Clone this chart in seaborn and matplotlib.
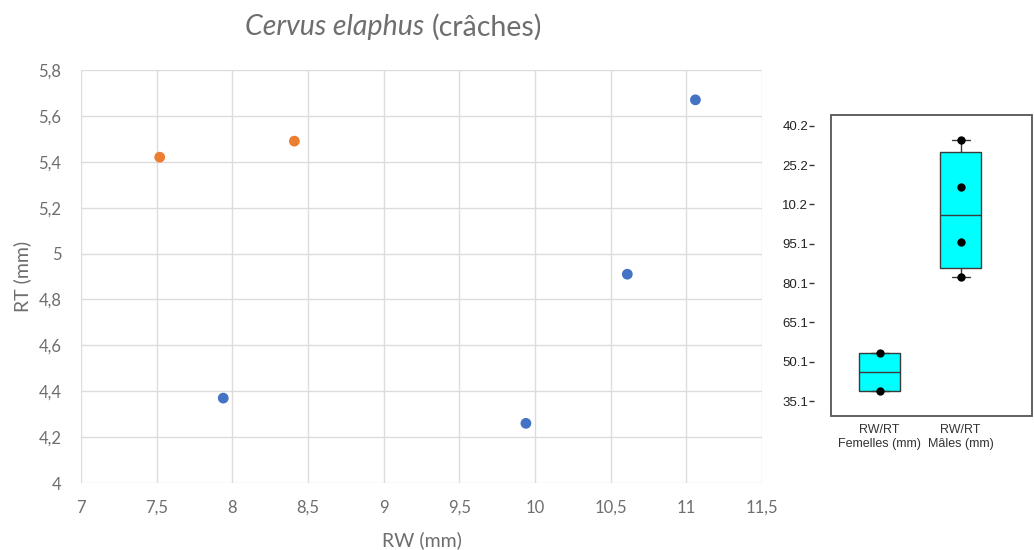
import matplotlib
matplotlib.use("Agg")
import matplotlib.pyplot as plt
from matplotlib.patches import Rectangle
import numpy as np
import pandas as pd
import seaborn as sns

rw_femelles = [7.52, 8.41]
rt_femelles = [5.42, 5.49]
rw_males = [7.94, 9.94, 10.61, 11.06]
rt_males = [4.37, 4.26, 4.91, 5.67]

# Rapports RW/RT pour la boîte à moustaches
ratio_femelles = [1.391, 1.534]
ratio_males = [1.824, 1.958, 2.168, 2.347]

xticks = [7, 7.5, 8, 8.5, 9, 9.5, 10, 10.5, 11, 11.5]
xtick_labels = ["7", "7,5", "8", "8,5", "9", "9,5", "10", "10,5", "11", "11,5"]
yticks = [4, 4.2, 4.4, 4.6, 4.8, 5, 5.2, 5.4, 5.6, 5.8]
ytick_labels = ["4", "4,2", "4,4", "4,6", "4,8", "5", "5,2", "5,4", "5,6", "5,8"]

box_ticks = [1.351, 1.501, 1.651, 1.801, 1.951, 2.102, 2.252, 2.402]
box_tick_labels = ["35.1", "50.1", "65.1", "80.1", "95.1", "10.2", "25.2", "40.2"]
box_cats = ["RW/RT\nFemelles (mm)", "RW/RT\nMâles (mm)"]

GRAY = "#595959"
TICKGRAY = "#6e6e6e"

sns.set_style("white")
plt.rcParams["font.family"] = ["Lato", "DejaVu Sans"]

fig = plt.figure(figsize=(10.34, 5.5), dpi=100)

# --- nuage de points
ax = fig.add_axes([81 / 1034, 1 - 483 / 550, 681 / 1034, 413 / 550])
df = pd.DataFrame({
    "RW": rw_femelles + rw_males,
    "RT": rt_femelles + rt_males,
    "sexe": ["F"] * len(rw_femelles) + ["M"] * len(rw_males),
})
sns.scatterplot(data=df, x="RW", y="RT", hue="sexe",
                palette={"F": "#ED7D31", "M": "#4472C4"},
                s=60, edgecolor="none", legend=False, ax=ax, zorder=3)
ax.set_xlim(7, 11.5)
ax.set_ylim(4, 5.8)
ax.set_xticks(xticks, xtick_labels)
ax.set_yticks(yticks, ytick_labels)
ax.grid(True, color="#dcdcdc", lw=1.0)
for s in ax.spines.values():
    s.set_visible(False)
ax.tick_params(length=0, labelsize=12, labelcolor=TICKGRAY)
ax.tick_params(axis="x", pad=12)
ax.tick_params(axis="y", pad=14)
ax.set_xlabel("RW (mm)", fontsize=14, color=TICKGRAY, labelpad=11)
ax.set_ylabel("RT (mm)", fontsize=14, color=TICKGRAY, labelpad=5)

fig.text(0.4105, 0.951, "Cervus elaphus", style="italic", fontsize=20.5,
         color=TICKGRAY, ha="right", va="center")
fig.text(0.4175, 0.951, "(crâches)", fontsize=20.5, color=TICKGRAY,
         ha="left", va="center")

# --- boîte à moustaches
axb = fig.add_axes([831 / 1034, 1 - 416 / 550, 201 / 1034, 301 / 550])
stats = []
for lab, vals in zip(box_cats, [ratio_femelles, ratio_males]):
    v = np.array(vals)
    q1, med, q3 = np.quantile(v, [0.25, 0.5, 0.75], method="weibull")
    stats.append(dict(label=lab, med=med, q1=q1, q3=q3,
                      whislo=v.min(), whishi=v.max(), fliers=[]))
edge = "#3a3a3a"
axb.bxp(stats, positions=[0, 1], widths=0.5, capwidths=0.22,
        patch_artist=True, showfliers=False,
        boxprops=dict(facecolor="#00FFFF", edgecolor=edge, lw=1),
        medianprops=dict(color=edge, lw=1),
        whiskerprops=dict(color=edge, lw=1),
        capprops=dict(color=edge, lw=1))
pts = pd.DataFrame({
    "cat": [box_cats[0]] * len(ratio_femelles) + [box_cats[1]] * len(ratio_males),
    "val": ratio_femelles + ratio_males,
})
sns.stripplot(data=pts, x="cat", y="val", jitter=False, color="black",
              size=6, ax=axb, zorder=4)
axb.set_xlim(-0.6, 1.88)
axb.set_ylim(1.294, 2.443)
axb.set_xticks([0, 1], box_cats)
axb.set_yticks(box_ticks, box_tick_labels)
axb.set_xlabel("")
axb.set_ylabel("")
for s in axb.spines.values():
    s.set_visible(False)
axb.spines["left"].set_position(("outward", 12))
axb.add_patch(Rectangle((0, 0), 1, 1, transform=axb.transAxes, fill=False,
                        ec="#555555", lw=1.3, clip_on=False))
for t in axb.get_xticklabels() + axb.get_yticklabels():
    t.set_family(["Liberation Sans", "DejaVu Sans"])
axb.tick_params(axis="y", left=True, length=3.5, width=1, color="#333333",
                labelsize=9.5, labelcolor="#222222", pad=1)
axb.tick_params(axis="x", length=0, labelsize=9, labelcolor="#333333", pad=6)

fig.savefig("out.png", dpi=100)
